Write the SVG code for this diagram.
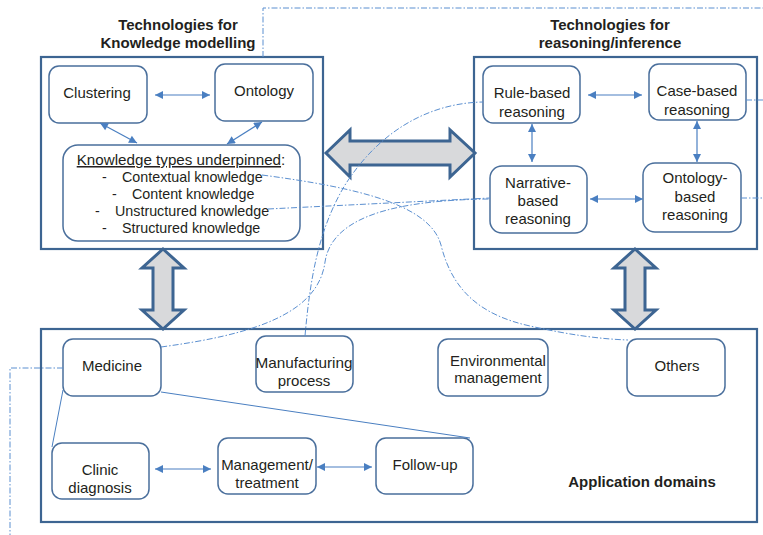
<svg xmlns="http://www.w3.org/2000/svg" width="763" height="535" viewBox="0 0 763 535">
<defs>
<marker id="ah" viewBox="0 0 10 10" refX="10" refY="5" markerWidth="9" markerHeight="8" markerUnits="userSpaceOnUse" orient="auto-start-reverse"><path d="M0,0 L10,5 L0,10 z" fill="#4a7fc1"/></marker>
</defs>
<style>
.frame{fill:#fff;stroke:#3d6592;stroke-width:2.2}
.node{fill:#fff;stroke:#4a6f9c;stroke-width:1.5}
.t{font-family:"Liberation Sans",Arial,sans-serif;font-size:15px;fill:#231f20;text-anchor:middle}
.h{font-weight:bold}
.l{font-size:14.3px;text-anchor:start}
.con{stroke:#4a7fc1;stroke-width:1.2;fill:none}
.ln{stroke:#4a7fc1;stroke-width:1;fill:none}
.dd{stroke:#5b8fd0;stroke-width:1;fill:none;stroke-dasharray:6 2 1.5 2}
.big{fill:#d8d9db;stroke:#3d6592;stroke-width:3;stroke-linejoin:miter}
</style>
<rect width="763" height="535" fill="#fff"/>

<g id="frame-knowledge">
<rect class="frame" x="41" y="57" width="282" height="192"/>
<text class="t h" x="178" y="30">Technologies for</text>
<text class="t h" x="178" y="48">Knowledge modelling</text>
</g>
<g id="frame-reasoning">
<rect class="frame" x="474" y="57" width="283" height="192"/>
<text class="t h" x="610" y="30">Technologies for</text>
<text class="t h" x="610" y="48">reasoning/inference</text>
</g>
<g id="frame-application">
<rect class="frame" x="41" y="329" width="716" height="193"/>
<text class="t h" x="642" y="487">Application domains</text>
</g>

<g id="big-arrows">
<path class="big" d="M326,153 L350,130 L350,141 L450,141 L450,130 L475,153 L450,177 L450,165 L350,165 L350,177 Z"/>
<path class="big" d="M163,249 L184,268 L173,268 L173,310 L184,310 L163,329 L142,310 L153,310 L153,268 L142,268 Z"/>
<path class="big" d="M635,249 L656,268 L645,268 L645,310 L656,310 L635,329 L614,310 L625,310 L625,268 L614,268 Z"/>
</g>

<g id="clustering"><rect class="node" x="49" y="66" width="98" height="57" rx="10"/><text class="t" x="97" y="98">Clustering</text></g>
<g id="ontology"><rect class="node" x="215" y="64" width="98" height="57" rx="10"/><text class="t" x="264" y="96">Ontology</text></g>
<g id="knowledge-types">
<rect class="node" x="63" y="145" width="237" height="96" rx="15"/>
<text class="t" x="181" y="165" style="font-size:15.2px"><tspan text-decoration="underline">Knowledge types underpinned</tspan>:</text>
<text class="t l" x="102" y="182">-</text><text class="t l" x="122" y="182">Contextual knowledge</text>
<text class="t l" x="112" y="199">-</text><text class="t l" x="132" y="199">Content knowledge</text>
<text class="t l" x="95" y="216">-</text><text class="t l" x="115" y="216">Unstructured knowledge</text>
<text class="t l" x="102" y="233">-</text><text class="t l" x="122" y="233">Structured knowledge</text>
</g>

<g id="rule-based"><rect class="node" x="483" y="66" width="97" height="57" rx="10"/><text class="t" x="532" y="98">Rule-based</text><text class="t" x="532" y="117">reasoning</text></g>
<g id="case-based"><rect class="node" x="649" y="64" width="97" height="56" rx="10"/><text class="t" x="697" y="96">Case-based</text><text class="t" x="697" y="115">reasoning</text></g>
<g id="narrative-based"><rect class="node" x="490" y="166" width="97" height="67" rx="12"/><text class="t" x="538" y="188">Narrative-</text><text class="t" x="538" y="206">based</text><text class="t" x="538" y="224">reasoning</text></g>
<g id="ontology-based"><rect class="node" x="643" y="163" width="98" height="69" rx="12"/><text class="t" x="695" y="183">Ontology-</text><text class="t" x="695" y="202">based</text><text class="t" x="695" y="220">reasoning</text></g>

<g id="medicine"><rect class="node" x="63" y="339" width="98" height="57" rx="10"/><text class="t" x="112" y="371">Medicine</text></g>
<g id="manufacturing"><rect class="node" x="256" y="336" width="97" height="56" rx="10"/><text class="t" x="304" y="368" textLength="97" lengthAdjust="spacingAndGlyphs">Manufacturing</text><text class="t" x="304" y="386">process</text></g>
<g id="environmental"><rect class="node" x="438" y="339" width="110" height="57" rx="10"/><text class="t" x="498" y="366">Environmental</text><text class="t" x="498" y="383">management</text></g>
<g id="others"><rect class="node" x="627" y="339" width="98" height="57" rx="10"/><text class="t" x="677" y="371">Others</text></g>
<g id="clinic"><rect class="node" x="52" y="443" width="97" height="56" rx="10"/><text class="t" x="100" y="475">Clinic</text><text class="t" x="100" y="493">diagnosis</text></g>
<g id="management"><rect class="node" x="218" y="438" width="98" height="56" rx="10"/><text class="t" x="267" y="470">Management/</text><text class="t" x="267" y="488">treatment</text></g>
<g id="follow-up"><rect class="node" x="376" y="438" width="97" height="56" rx="10"/><text class="t" x="425" y="470">Follow-up</text></g>

<g id="connectors">
<path class="con" d="M155,95 L210,95" marker-start="url(#ah)" marker-end="url(#ah)"/>
<path class="con" d="M100,123 L137,143" marker-start="url(#ah)" marker-end="url(#ah)"/>
<path class="con" d="M262,122 L227,144" marker-start="url(#ah)" marker-end="url(#ah)"/>
<path class="con" d="M588,95 L642,95" marker-start="url(#ah)" marker-end="url(#ah)"/>
<path class="con" d="M532,124 L532,162" marker-start="url(#ah)" marker-end="url(#ah)"/>
<path class="con" d="M697,121 L697,162" marker-start="url(#ah)" marker-end="url(#ah)"/>
<path class="con" d="M590,199 L643,199" marker-start="url(#ah)" marker-end="url(#ah)"/>
<path class="con" d="M155,469 L211,469" marker-start="url(#ah)" marker-end="url(#ah)"/>
<path class="con" d="M317,467 L372,467" marker-start="url(#ah)" marker-end="url(#ah)"/>
<path class="ln" d="M63,390 L52,447"/>
<path class="ln" d="M161,392 L470,438"/>
<path class="dd" d="M263,57 L263,8 L763,8"/>
<path class="dd" d="M63,368 L10,368 L10,535"/>
<path class="dd" d="M262,175 C360,188 430,205 441,245 C452,290 480,315 530,326 C570,335 600,339 628,340"/>
<path class="dd" d="M268,209 L490,198"/>
<path class="dd" d="M161,347 C250,335 318,315 325,262 C332,215 400,200 490,199"/>
<path class="dd" d="M305,336 C310,280 318,230 345,185 C380,130 430,103 483,102"/>
<path class="dd" d="M746,100 L763,100"/>
<path class="dd" d="M741,198 L763,198"/>
</g>
</svg>
